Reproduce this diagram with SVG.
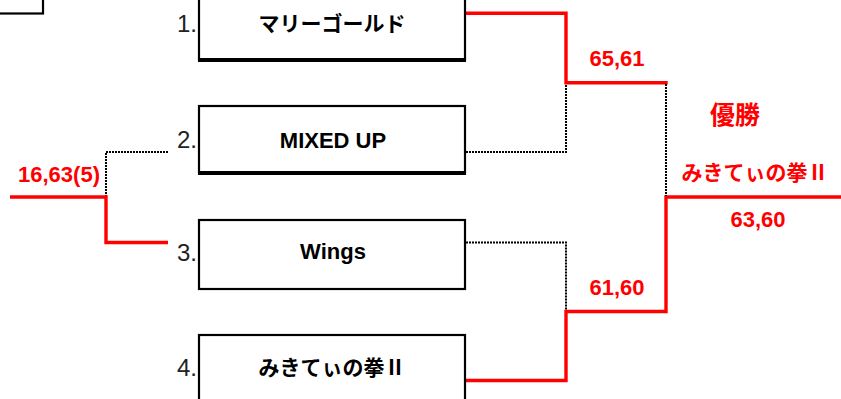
<svg xmlns="http://www.w3.org/2000/svg" width="841" height="399" viewBox="0 0 841 399">
<style>
.box{fill:#fff;stroke:#000;stroke-width:2.2}
.thick{stroke:#000;stroke-width:4}
.name{font-family:"Liberation Sans","Noto Sans CJK JP",sans-serif;font-weight:bold;font-size:22px;fill:#000;text-anchor:middle}
.jp{font-family:"Noto Sans CJK JP",sans-serif;font-weight:bold;font-size:21px;text-anchor:middle}
.num{font-family:"Liberation Sans",sans-serif;font-size:24px;fill:#222;text-anchor:end}
.score{font-family:"Liberation Sans",sans-serif;font-weight:bold;font-size:22px;fill:#ff0000;text-anchor:middle}
.red{fill:none;stroke:#ff0000;stroke-width:3.4;stroke-linejoin:miter}
.dot{fill:none;stroke:#000;stroke-width:2;stroke-dasharray:2 1}
</style>
<rect width="841" height="399" fill="#fff"/>
<g id="corner-box">
<rect class="box" x="-10" y="-10" width="53" height="23.5"/>
</g>
<g id="connectors">
<polyline class="dot" points="168,152 106,152 106,197"/>
<polyline class="red" points="10,197 106,197 106,242.5 168,242.5"/>
<polyline class="dot" points="466,152 566,152 566,83"/>
<polyline class="red" points="465,13.3 566,13.3 566,82.7 667.7,82.7"/>
<polyline class="dot" points="466,242.5 566,242.5 566,311"/>
<polyline class="red" points="465,380.5 566,380.5 566,311.5 666,311.5 666,197 841,197"/>
<polyline class="dot" points="666,84 666,196"/>
</g>
<g id="team1">
<rect class="box" x="199" y="-4" width="266" height="64"/>
<line class="thick" x1="198" y1="60" x2="466" y2="60"/>
<text class="num" x="197" y="32">1.</text>
<text class="jp" x="332" y="31">マリーゴールド</text>
</g>
<g id="team2">
<rect class="box" x="199" y="106" width="266" height="67"/>
<line class="thick" x1="198" y1="173" x2="466" y2="173"/>
<text class="num" x="197" y="148">2.</text>
<text class="name" x="333" y="148">MIXED UP</text>
</g>
<g id="team3">
<rect class="box" x="199" y="220" width="266" height="69"/>
<text class="num" x="197" y="261">3.</text>
<text class="name" x="333" y="259">Wings</text>
</g>
<g id="team4">
<rect class="box" x="199" y="335" width="266" height="80"/>
<text class="num" x="197" y="376">4.</text>
<text class="jp" x="332" y="375">みきてぃの拳Ⅱ</text>
</g>
<g id="labels">
<text class="score" x="59" y="182">16,63(5)</text>
<text class="score" x="617" y="66">65,61</text>
<text class="score" x="617" y="295">61,60</text>
<text class="score" x="758" y="227">63,60</text>
<text class="jp" x="735" y="124" style="font-size:25px;fill:#ff0000">優勝</text>
<text class="jp" x="755" y="180" style="fill:#ff0000">みきてぃの拳Ⅱ</text>
</g>
</svg>
